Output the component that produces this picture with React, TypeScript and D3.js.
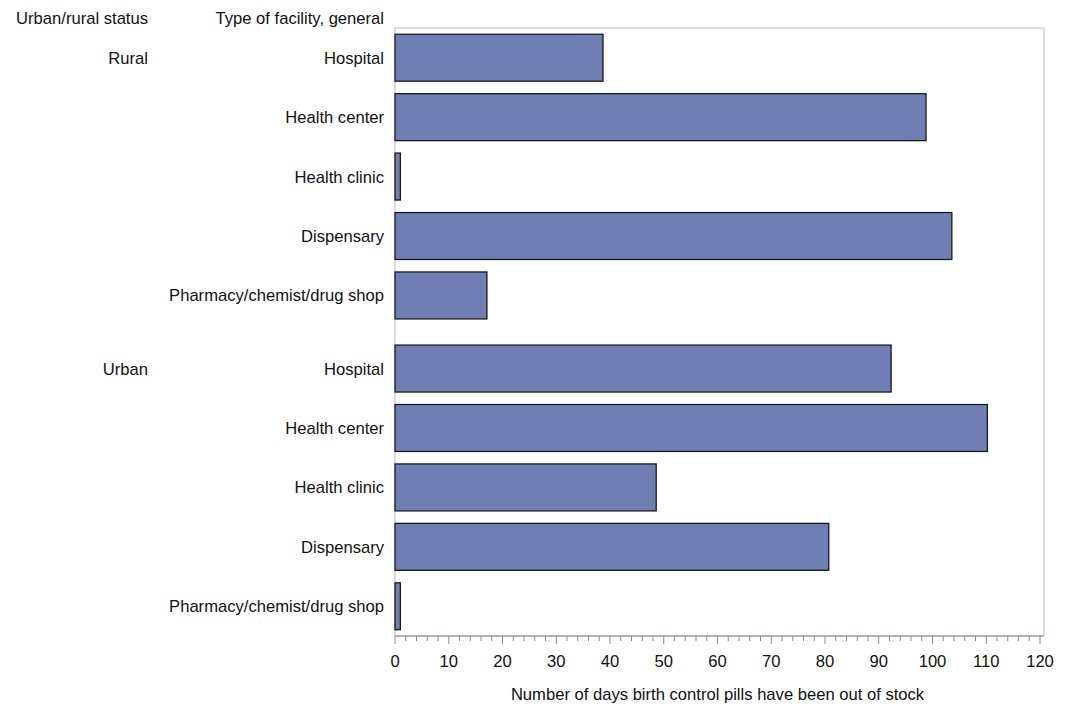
import React from "react";
import * as d3 from "d3";

const groups = ["Rural", "Urban"];
const facilities = ["Hospital", "Health center", "Health clinic", "Dispensary", "Pharmacy/chemist/drug shop"];
const ruralValues = [38.7, 98.8, 1, 103.6, 17.1];
const urbanValues = [92.3, 110.2, 48.6, 80.7, 1];
const xTicks = [0, 10, 20, 30, 40, 50, 60, 70, 80, 90, 100, 110, 120];
const xTitle = "Number of days birth control pills have been out of stock";
const groupHeader = "Urban/rural status";
const facilityHeader = "Type of facility, general";

const W = 1065, H = 706;
const plotL = 395, plotR = 1044, plotT = 28, plotB = 636;
const groupGap = 0.23;
const font = "'Liberation Sans', Arial, sans-serif";
const fs = 16.6;

export default function App() {
  const x = d3.scaleLinear().domain([0, 120]).range([plotL, 1040]);
  const nPer = facilities.length;
  const y = d3.scaleLinear().domain([-0.5, groups.length * nPer - 0.5 + groupGap * (groups.length - 1)]).range([plotT, plotB]);
  const step = y(1) - y(0);
  const barH = step * 0.79;
  const allValues = [ruralValues, urbanValues];
  const rows: { g: number; i: number; v: number; slot: number }[] = [];
  allValues.forEach((vals, g) => vals.forEach((v, i) => rows.push({ g, i, v, slot: g * nPer + i + g * groupGap })));
  const minorTicks = d3.range(0, 121, 2).filter((t) => t % 10 !== 0);
  const txt = "#111";
  return (
    <svg width={W} height={H} style={{ position: "absolute", left: 0, top: 0, background: "#fff" }} fontFamily={font}>
      <rect x={plotL} y={plotT} width={plotR - plotL} height={plotB - plotT} fill="#fff" stroke="#B5BCC0" strokeWidth={1} />
      {rows.map((r, k) => (
        <rect key={k} x={x(0)} y={y(r.slot) - barH / 2} width={x(r.v) - x(0)} height={barH} fill="#6F7EB3" stroke="#1a1a1a" strokeWidth={1.3} />
      ))}
      <text x={148} y={24} textAnchor="end" fontSize={fs} fill={txt}>{groupHeader}</text>
      <text x={384} y={24} textAnchor="end" fontSize={fs} fill={txt}>{facilityHeader}</text>
      {rows.map((r, k) => (
        <text key={"l" + k} x={384} y={y(r.slot) + 6} textAnchor="end" fontSize={fs} fill={txt}>{facilities[r.i]}</text>
      ))}
      {groups.map((g, gi) => (
        <text key={g} x={148} y={y(gi * nPer + gi * groupGap) + 6} textAnchor="end" fontSize={fs} fill={txt}>{g}</text>
      ))}
      <line x1={plotL} x2={plotR} y1={plotB} y2={plotB} stroke="#8A8F93" strokeWidth={1} />
      {xTicks.map((t) => (
        <g key={t}>
          <line x1={x(t)} x2={x(t)} y1={plotB} y2={plotB + 8} stroke="#8A8F93" />
          <text x={x(t)} y={plotB + 31} textAnchor="middle" fontSize={fs} fill={txt}>{t}</text>
        </g>
      ))}
      {minorTicks.map((t) => (
        <line key={"m" + t} x1={x(t)} x2={x(t)} y1={plotB} y2={plotB + 5} stroke="#8A8F93" />
      ))}
      <text x={(x(0) + x(120)) / 2} y={plotB + 64} textAnchor="middle" fontSize={fs} fill={txt}>{xTitle}</text>
    </svg>
  );
}
